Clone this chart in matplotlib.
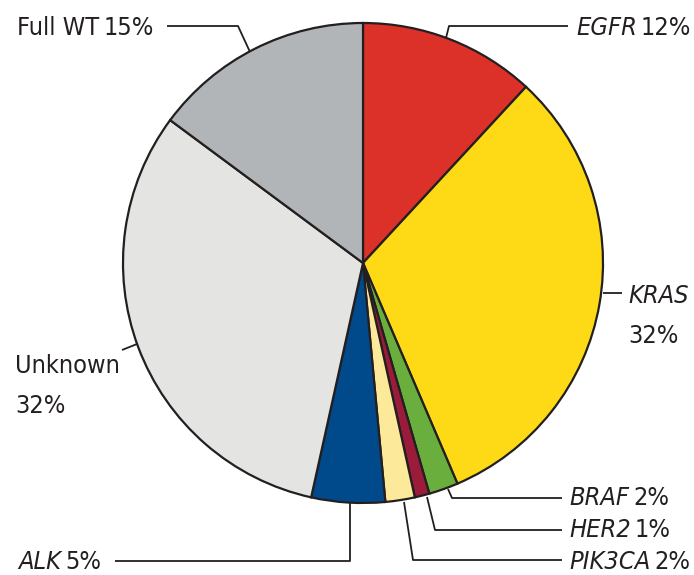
import matplotlib
matplotlib.use("Agg")
import matplotlib.pyplot as plt
from matplotlib import font_manager as fm

genes = ["EGFR", "KRAS", "BRAF", "HER2", "PIK3CA", "ALK", "Unknown", "Full WT"]
percent = [12, 32, 2, 1, 2, 5, 32, 15]
italic = [True, True, True, True, True, True, False, False]
colors = ["#DC3129", "#FDD916", "#6AAF3D", "#9B1B3A", "#FDE99A",
          "#004A8C", "#E4E5E3", "#B2B5B7"]

W, H = 694, 575
fig = plt.figure(figsize=(W / 100, H / 100), dpi=100)
ax = fig.add_axes([0, 0, 1, 1])

cx, cy, r = 363, 263, 240
# y axis is inverted below, so start at -90 and go counterclock in data space
ax.pie(percent, colors=colors, startangle=-90, counterclock=True,
       center=(cx, cy), radius=r, frame=True,
       wedgeprops=dict(edgecolor="#231F20", linewidth=1.6))
ax.set_xlim(0, W)
ax.set_ylim(H, 0)
ax.axis("off")


# look for a narrow sans face, otherwise fall back to Lato
def pick_font():
    regular, oblique = None, None
    for f in fm.fontManager.ttflist:
        narrow = ("Narrow" in f.name or "Condensed" in f.name
                  or f.stretch in ("condensed", "semi-condensed"))
        if not narrow or "Mono" in f.name or "Serif" in f.name:
            continue
        if f.weight not in (400, "normal", "regular", "book"):
            continue
        if f.style == "normal" and regular is None:
            regular = f.fname
        elif f.style in ("italic", "oblique") and oblique is None:
            oblique = f.fname
    if regular:
        return (fm.FontProperties(fname=regular),
                fm.FontProperties(fname=oblique or regular))
    return (fm.FontProperties(family="Lato"),
            fm.FontProperties(family="Lato", style="italic"))


fp_up, fp_it = pick_font()
lc = "#231F20"

# size the text so that "Full WT 15%" is about as wide as in the reference
fig.canvas.draw()
renderer = fig.canvas.get_renderer()
probe = ax.text(0, 0, "Full WT 15%", fontproperties=fp_up, fontsize=20)
wpx = probe.get_window_extent(renderer).width
probe.remove()
fs = min(22, 20 * 140 / wpx)
fp_up.set_size(fs)
fp_it.set_size(fs)

# leader lines (pixel coords)
leaders = {
    "EGFR": [(446, 38), (449, 26), (568, 26)],
    "KRAS": [(603, 293), (622, 293)],
    "BRAF": [(448, 489), (452, 498), (562, 498)],
    "HER2": [(427, 497), (435, 530), (562, 530)],
    "PIK3CA": [(404, 502), (413, 560), (562, 560)],
    "ALK": [(350, 502), (350, 561), (115, 561)],
    "Unknown": [(122, 350), (137, 344)],
    "Full WT": [(250, 52), (238, 26), (167, 26)],
}
for g in genes:
    xs, ys = zip(*leaders[g])
    ax.plot(xs, ys, color=lc, lw=1.3, solid_capstyle="butt")

# label anchors: (x, y, two-line?)
anchors = {
    "EGFR": (576, 28, False),
    "KRAS": (628, 296, True),
    "BRAF": (569, 498, False),
    "HER2": (569, 530, False),
    "PIK3CA": (569, 562, False),
    "ALK": (18, 562, False),
    "Unknown": (15, 366, True),
    "Full WT": (17, 28, False),
}

inv = ax.transData.inverted()
for g, p, it in zip(genes, percent, italic):
    x, y, two = anchors[g]
    t = ax.text(x, y, g, fontproperties=fp_it if it else fp_up,
                ha="left", va="center", color=lc)
    if two:
        ax.text(x, y + 40, f"{p}%", fontproperties=fp_up,
                ha="left", va="center", color=lc)
    else:
        bb = t.get_window_extent(renderer)
        x1 = inv.transform((bb.x1, bb.y0))[0]
        ax.text(x1 + 4, y, f"{p}%", fontproperties=fp_up,
                ha="left", va="center", color=lc)

fig.savefig("out.png", dpi=100)
